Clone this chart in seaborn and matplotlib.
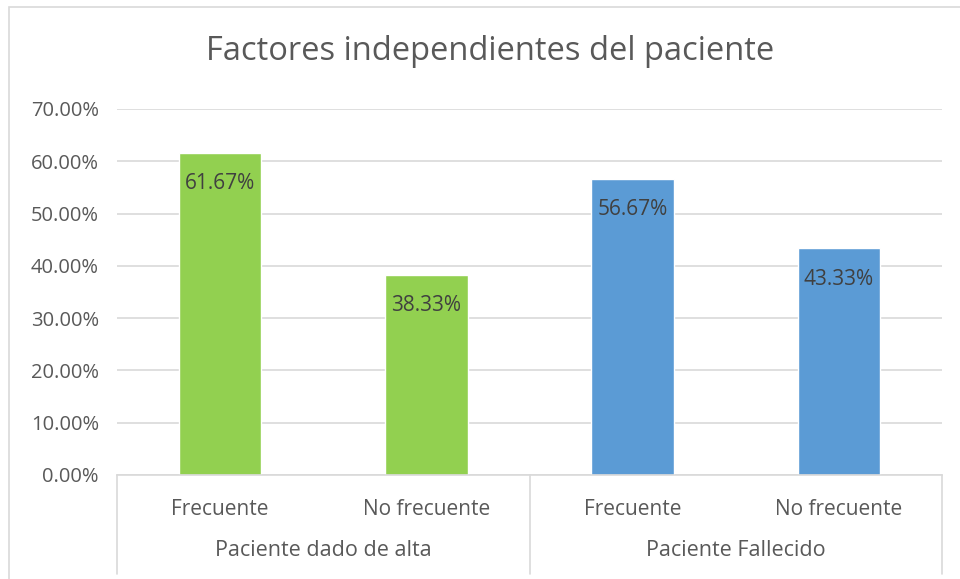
import numpy as np
import pandas as pd
import seaborn as sns
import matplotlib.pyplot as plt
from matplotlib.lines import Line2D
from matplotlib.patches import Rectangle
from matplotlib.ticker import PercentFormatter

# data
grupos = ["Paciente dado de alta", "Paciente dado de alta", "Paciente Fallecido", "Paciente Fallecido"]
factores = ["Frecuente", "No frecuente", "Frecuente", "No frecuente"]
valores = [0.6167, 0.3833, 0.5667, 0.4333]
colores = {"Paciente dado de alta": "#92D050", "Paciente Fallecido": "#5B9BD5"}

df = pd.DataFrame({"grupo": grupos, "factor": factores, "valor": valores})
df["clave"] = df["grupo"] + " / " + df["factor"]

sns.set_style("white")
plt.rcParams["font.family"] = ["Open Sans", "DejaVu Sans"]
gris = "#595959"

fig = plt.figure(figsize=(9.6, 5.79), dpi=100)
ax = fig.add_axes([117 / 960, 1 - 475 / 579, (942 - 117) / 960, (475 - 109) / 579])

sns.barplot(data=df, x="clave", y="valor", hue="grupo", palette=colores,
            dodge=False, width=0.4, legend=False, ax=ax, saturation=1)

ax.set_ylim(0, 0.7)
ax.set_yticks(np.arange(0, 0.71, 0.1))
ax.yaxis.set_major_formatter(PercentFormatter(1.0, decimals=2))
ax.yaxis.grid(True, color="#D9D9D9", linewidth=1.2)
ax.set_axisbelow(True)
for s in ["top", "right", "left"]:
    ax.spines[s].set_visible(False)
ax.spines["bottom"].set_color("#D9D9D9")
ax.spines["bottom"].set_linewidth(1.2)
ax.tick_params(axis="y", length=0, labelsize=14.5, labelcolor=gris, pad=13)
ax.tick_params(axis="x", length=0, labelsize=15, labelcolor=gris, pad=17)
ax.set_xticks(range(len(factores)))
ax.set_xticklabels(factores)
ax.set_xlabel("")
ax.set_ylabel("")

# value labels inside the top of each bar
for bar, v in zip(ax.patches, valores):
    ax.annotate(f"{v * 100:.2f}%", (bar.get_x() + bar.get_width() / 2, v),
                xytext=(0, -22), textcoords="offset points",
                ha="center", va="center", fontsize=15, color="#404040")

# group labels and separators below the axis
trans = ax.get_xaxis_transform()
for xs in [-0.5, 1.5, 3.5]:
    ax.add_line(Line2D([xs, xs], [0, -0.27], transform=trans, color="#D9D9D9",
                       linewidth=1.2, clip_on=False))
ax.text(0.5, -0.205, "Paciente dado de alta", transform=trans, ha="center", va="center",
        fontsize=15.5, color=gris)
ax.text(2.5, -0.205, "Paciente Fallecido", transform=trans, ha="center", va="center",
        fontsize=15.5, color=gris)

fig.text(490 / 960, 1 - 51 / 579, "Factores independientes del paciente", ha="center",
         va="center", fontsize=23.5, color=gris)

# chart border
fig.patches.append(Rectangle((9 / 960, -0.05), 1.0, 1 - 7 / 579 + 0.05, transform=fig.transFigure,
                             fill=False, edgecolor="#D9D9D9", linewidth=1.2))

fig.savefig("out.png", dpi=100)
